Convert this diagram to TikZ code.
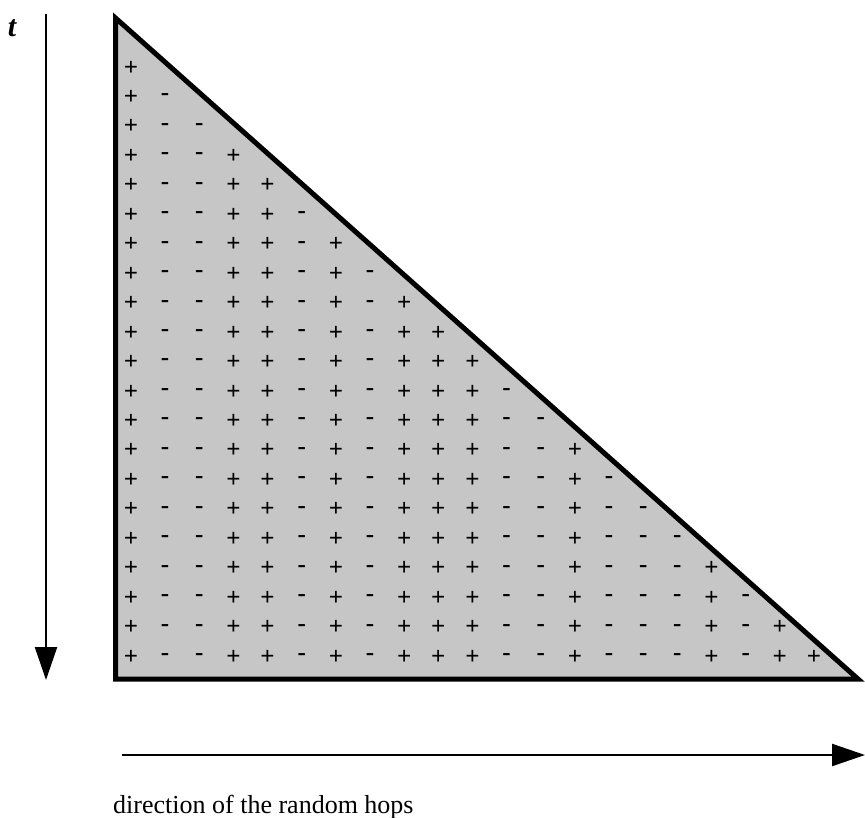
\documentclass[tikz,border=0pt]{standalone}
\usepackage{fontspec}
\setmainfont{Liberation Serif}
\usetikzlibrary{arrows.meta}
\tikzset{sign/.style={inner sep=0pt,font=\fontsize{25}{25}\selectfont\bfseries},axis/.style={line width=2.2pt,-{Triangle[length=33pt,width=22pt]}},wedge/.style={draw,line width=5pt,line join=miter,fill=gray!45}}

\begin{document}
\begin{tikzpicture}[x=1pt,y=-1pt]
\useasboundingbox (0,0) rectangle (865,817);
\coordinate (apex) at (115.5,18);
\coordinate (corner) at (115.5,679);
\coordinate (tip) at (858,679);
\draw[wedge] (apex) -- (corner) -- (tip) -- cycle;
% signs, column c filled from row c down
\foreach \s [count=\c] in {+,-,-,+,+,-,+,-,+,+,+,-,-,+,-,-,-,+,-,+,+}
  \foreach \r in {\c,...,21}
    \node[sign] (s-\r-\c) at ({131+34.15*(\c-1)},{68+29.45*(\r-1)}) {\s};
% axes
\coordinate (ttop) at (46,14);
\coordinate (tbot) at (46,680);
\draw[axis] (ttop) -- (tbot);
\node[inner sep=0pt,font=\fontsize{30}{30}\selectfont\bfseries\itshape] (tlabel) at (12,28) {t};
\coordinate (hleft) at (122,755);
\coordinate (hright) at (865,755);
\draw[axis] (hleft) -- (hright);
\node[anchor=base west,inner sep=0pt,font=\fontsize{26}{26}\selectfont] (hlabel) at (113,813) {direction of the random hops};
\end{tikzpicture}
\end{document}
